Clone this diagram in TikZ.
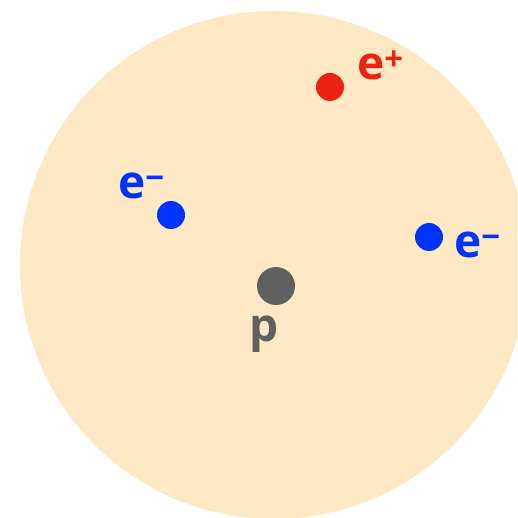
\documentclass[tikz,border=0pt]{standalone}
\usepackage{fontspec}
\setmainfont{Open Sans}
\usetikzlibrary{positioning}
\definecolor{cloudbg}{RGB}{255,233,196}
\definecolor{posred}{RGB}{238,34,16}
\definecolor{elecblue}{RGB}{0,51,255}
\definecolor{protgray}{RGB}{96,96,96}
\newcommand{\chgsup}[1]{\raisebox{9pt}{\fontsize{33}{35}\selectfont #1}}
\tikzset{
  particle/.style={circle,inner sep=0pt,minimum size=28pt},
  plabel/.style={inner sep=0pt,anchor=base west,font=\fontsize{46}{50}\bfseries\selectfont}
}
\begin{document}
\begin{tikzpicture}[x=1pt,y=-1pt]
\useasboundingbox (0,0) rectangle (517,518);
\clip (0,0) rectangle (517,518);
\fill[cloudbg] (274,265) circle (254);
\node[particle,fill=posred] (pos) at (330,87) {};
\node[particle,fill=elecblue] (elecA) at (171,215) {};
\node[particle,fill=elecblue] (elecB) at (429,237) {};
\node[particle,fill=protgray,minimum size=38pt] (prot) at (276,286) {};
\node[plabel,text=posred] (posL) at (357,80) {e\chgsup{+}};
\node[plabel,text=elecblue] (elecAL) at (118,199) {e\chgsup{−}};
\node[plabel,text=elecblue] (elecBL) at (454,257) {e\chgsup{−}};
\node[plabel,text=protgray,anchor=base] (protL) at (264,341) {p};
\end{tikzpicture}
\end{document}
